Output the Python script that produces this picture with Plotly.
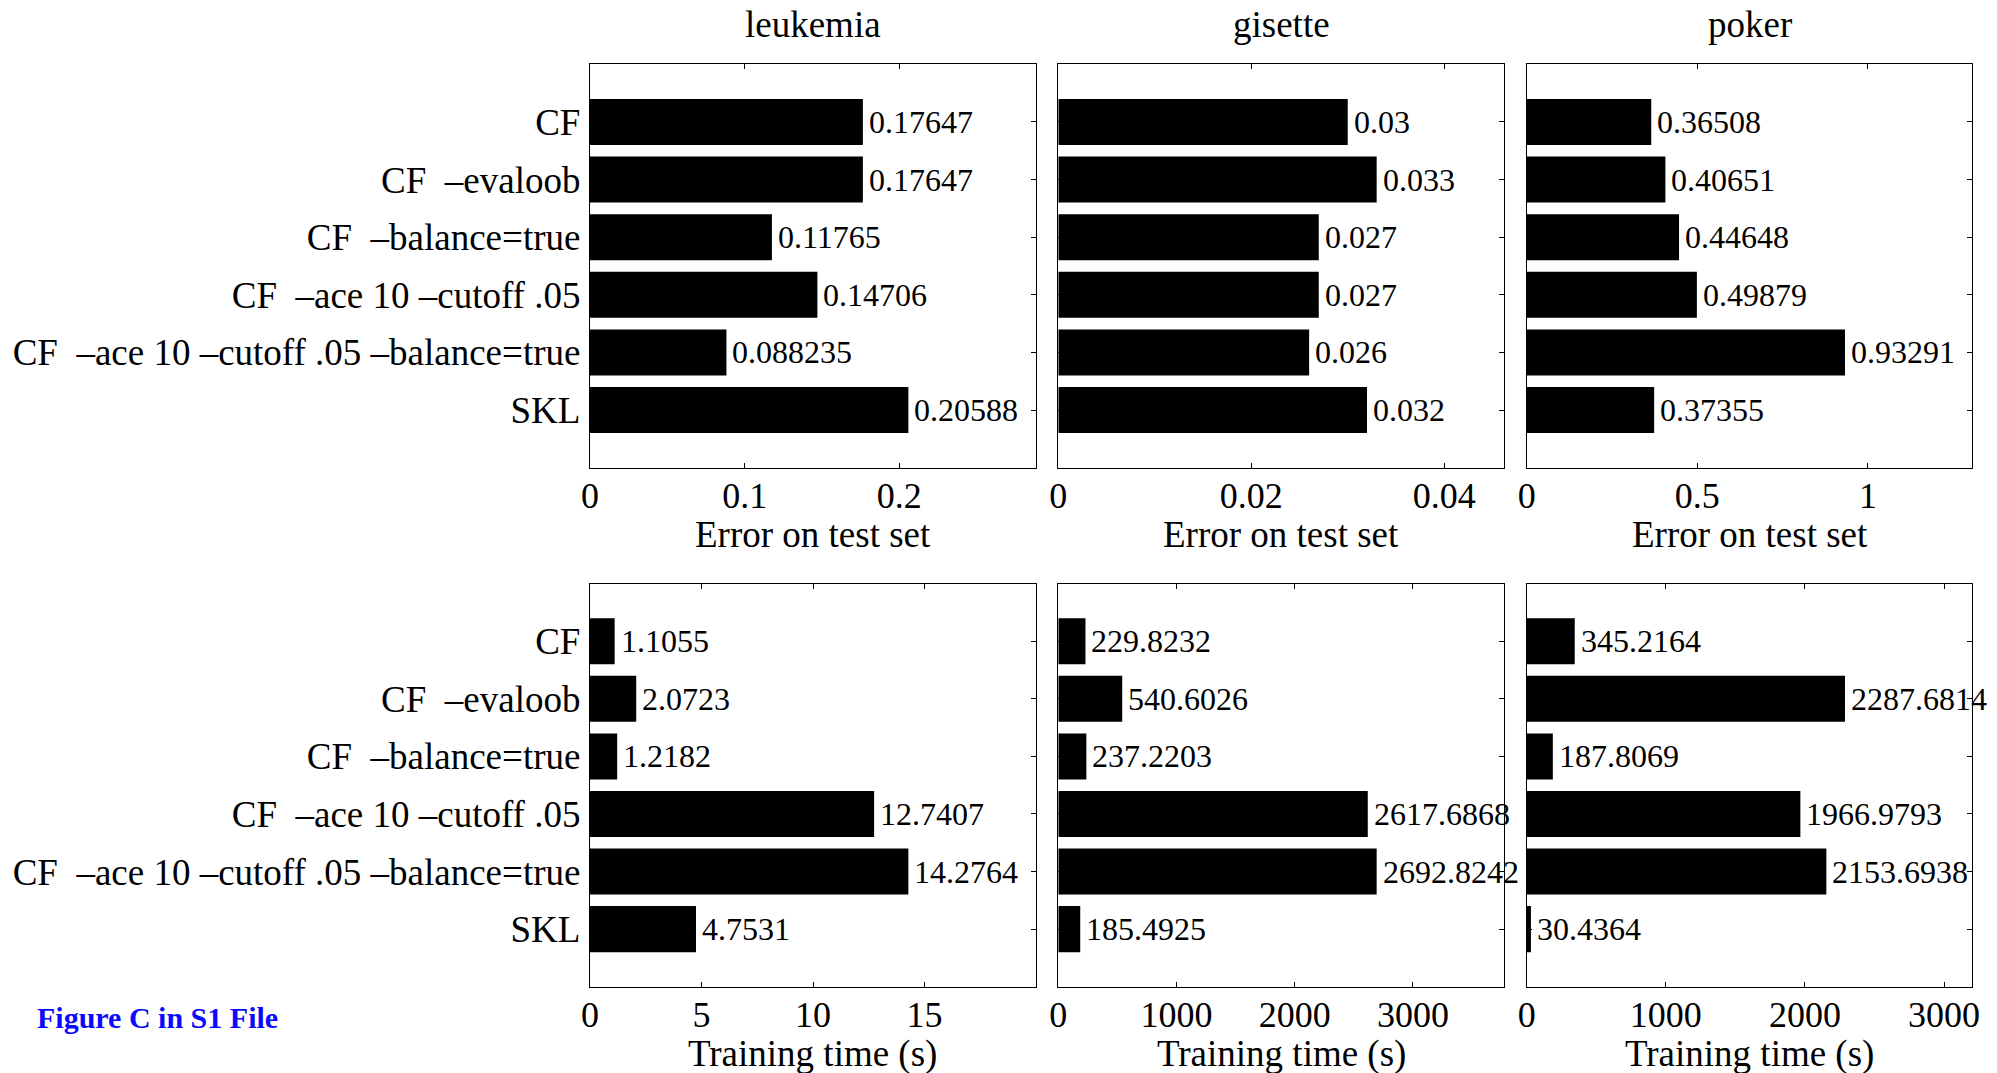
import plotly.graph_objects as go

# ---------------- data ----------------
datasets = ["leukemia", "gisette", "poker"]
methods = [
    "CF",
    "CF\u00a0\u00a0\u2013evaloob",
    "CF\u00a0\u00a0\u2013balance=true",
    "CF\u00a0\u00a0\u2013ace 10 \u2013cutoff .05",
    "CF\u00a0\u00a0\u2013ace 10 \u2013cutoff .05 \u2013balance=true",
    "SKL",
]

error_leukemia = [0.17647, 0.17647, 0.11765, 0.14706, 0.088235, 0.20588]
error_gisette = [0.03, 0.033, 0.027, 0.027, 0.026, 0.032]
error_poker = [0.36508, 0.40651, 0.44648, 0.49879, 0.93291, 0.37355]

time_leukemia = [1.1055, 2.0723, 1.2182, 12.7407, 14.2764, 4.7531]
time_gisette = [229.8232, 540.6026, 237.2203, 2617.6868, 2692.8242, 185.4925]
time_poker = [345.2164, 2287.6814, 187.8069, 1966.9793, 2153.6938, 30.4364]

error_ticks = [[0, 0.1, 0.2], [0, 0.02, 0.04], [0, 0.5, 1]]
error_ticktext = [["0", "0.1", "0.2"], ["0", "0.02", "0.04"], ["0", "0.5", "1"]]
time_ticks = [[0, 5, 10, 15], [0, 1000, 2000, 3000], [0, 1000, 2000, 3000]]
time_ticktext = [["0", "5", "10", "15"], ["0", "1000", "2000", "3000"], ["0", "1000", "2000", "3000"]]

row_values = [[error_leukemia, error_gisette, error_poker],
              [time_leukemia, time_gisette, time_poker]]
row_ticks = [error_ticks, time_ticks]
row_ticktext = [error_ticktext, time_ticktext]
row_xlabels = ["Error on test set", "Training time (s)"]
note_text = "Figure C in S1 File"

# ---------------- layout geometry ----------------
W, H = 1997, 1073
col_px = [(590, 1035.7), (1058.3, 1504.0), (1526.7, 1972.3)]
row_px = [(64.3, 467.7), (583.7, 986.7)]
FONT = "Liberation Serif, Times New Roman, serif"

fig = go.Figure()
layout = dict(
    template="none",
    width=W, height=H,
    margin=dict(l=0, r=0, t=0, b=0, autoexpand=False),
    paper_bgcolor="white", plot_bgcolor="white",
    showlegend=False,
    font=dict(family=FONT, color="black"),
    annotations=[],
)

for r in range(2):
    for c in range(3):
        k = r * 3 + c + 1
        xa = "x" if k == 1 else f"x{k}"
        ya = "y" if k == 1 else f"y{k}"
        xkey = "xaxis" if k == 1 else f"xaxis{k}"
        ykey = "yaxis" if k == 1 else f"yaxis{k}"
        vals = row_values[r][c]
        fig.add_trace(go.Bar(
            x=vals, y=methods, orientation="h",
            marker=dict(color="black", line=dict(width=0)),
            width=0.8, xaxis=xa, yaxis=ya, hoverinfo="skip",
        ))
        x0, x1 = col_px[c]
        y0, y1 = row_px[r]
        layout[xkey] = dict(
            domain=[x0 / W, x1 / W], anchor=ya, automargin=False,
            range=[0, max(vals) * 1.4],
            tickvals=row_ticks[r][c], ticktext=row_ticktext[r][c],
            ticks="inside", ticklen=5, tickwidth=1, tickcolor="black",
            showline=True, linecolor="black", linewidth=1.3, mirror="allticks",
            showgrid=False, zeroline=False,
            tickfont=dict(family=FONT, size=36, color="black"),
            ticklabelstandoff=-4,
            fixedrange=True,
        )
        layout[ykey] = dict(
            domain=[1 - y1 / H, 1 - y0 / H], anchor=xa, automargin=False,
            type="category", categoryorder="array", categoryarray=methods,
            range=[len(methods), -1],
            ticks="inside", ticklen=5, tickwidth=1, tickcolor="black",
            showline=True, linecolor="black", linewidth=1.3, mirror="allticks",
            showgrid=False, zeroline=False,
            showticklabels=(c == 0),
            tickfont=dict(family=FONT, size=37, color="black"),
            ticklabelstandoff=1,
            fixedrange=True,
        )
        # value labels
        for m, v in zip(methods, vals):
            layout["annotations"].append(dict(
                x=v, y=m, xref=xa, yref=ya, text=str(v),
                showarrow=False, xanchor="left", yanchor="middle",
                xshift=4, yshift=0,
                font=dict(family=FONT, size=32, color="black"),
            ))
        # x-axis label
        layout["annotations"].append(dict(
            x=0.5, y=0, xref=f"{xa} domain", yref=f"{ya} domain",
            text=row_xlabels[r], showarrow=False,
            xanchor="center", yanchor="top", yshift=-44,
            font=dict(family=FONT, size=37, color="black"),
        ))

# titles (top row only)
for c in range(3):
    x0, x1 = col_px[c]
    layout["annotations"].append(dict(
        x=(x0 + x1) / 2 / W, y=1 - 24 / H, xref="paper", yref="paper",
        text=datasets[c], showarrow=False, xanchor="center", yanchor="middle",
        font=dict(family=FONT, size=37, color="black"),
    ))

layout["annotations"].append(dict(
    x=35 / W, y=1 - 1017 / H, xref="paper", yref="paper",
    text=f"<b>{note_text}</b>", showarrow=False,
    xanchor="left", yanchor="middle",
    font=dict(family=FONT, size=30, color="#0a0aff"),
))

fig.update_layout(**layout)
fig.write_html(
    "out.html",
    config={"displayModeBar": False},
    post_script="document.body.style.margin='0';document.documentElement.style.overflow='hidden';",
)
